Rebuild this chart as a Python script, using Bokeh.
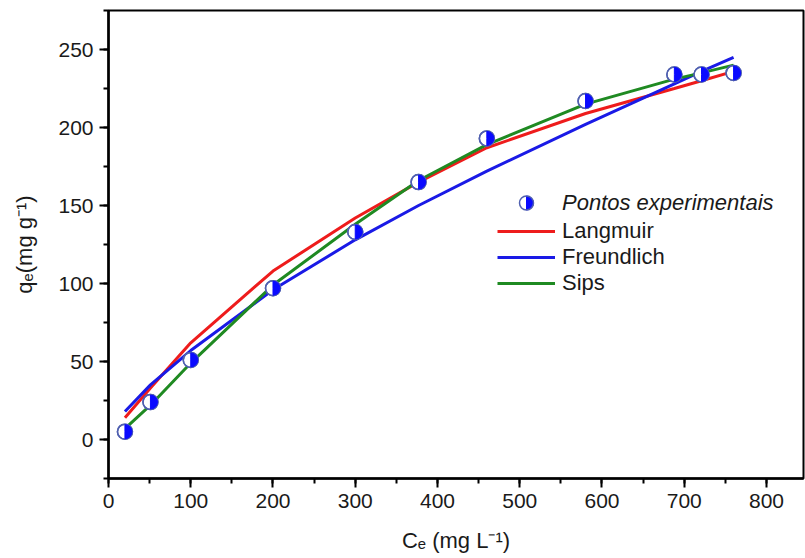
import math
from bokeh.plotting import figure
from bokeh.models import Range1d, SingleIntervalTicker, Legend, LegendItem, ColumnDataSource
from bokeh.embed import file_html
from bokeh.resources import INLINE

# ---- data ----
ce = [20, 51, 100, 200, 300, 377, 460, 580, 688, 721, 760]
qe_exp = [5, 24, 51, 97, 133, 165, 193, 217, 234, 234, 235]
langmuir = [14, 33, 62, 108, 142, 165, 187, 209, 225, 230, 236]
freundlich = [18, 35, 57, 96, 128, 150, 172, 202, 228, 236, 245]
sips = [7, 22, 49, 99, 138, 166, 189, 215, 231, 235, 240]
series_names = ["Langmuir", "Freundlich", "Sips"]
points_name = "Pontos experimentais"
x_title = "Cₑ (mg L⁻¹)"
y_title = "qₑ(mg g⁻¹)"

# ---- layout ----
W, H = 805, 558
BL, BR, BT, BB = 108, 2, 10, 80
X0, X1 = 0, 845
Y0, Y1 = -25, 275
FONT = "Liberation Sans"
colors = ["#ee1c1c", "#1a1ae6", "#1f8a22"]

p = figure(width=W, height=H, output_backend="svg", toolbar_location=None,
           x_range=Range1d(X0, X1), y_range=Range1d(Y0, Y1),
           min_border_left=BL, min_border_right=BR, min_border_top=BT, min_border_bottom=BB)
p.grid.visible = False
p.outline_line_color = "black"
p.outline_line_width = 2
p.background_fill_color = "white"
p.border_fill_color = "white"

p.xaxis.ticker = SingleIntervalTicker(interval=100, num_minor_ticks=2)
p.yaxis.ticker = SingleIntervalTicker(interval=50, num_minor_ticks=2)
for ax in (p.xaxis, p.yaxis):
    ax.axis_line_width = 2.5
    ax.axis_line_color = "black"
    ax.major_tick_line_width = 2
    ax.minor_tick_line_width = 2
    ax.major_tick_out = 9
    ax.major_tick_in = 0
    ax.minor_tick_out = 5
    ax.minor_tick_in = 0
    ax.major_label_text_font = FONT
    ax.major_label_text_font_size = "21px"
    ax.major_label_text_color = "#1a1a1a"
    ax.axis_label_text_font = FONT
    ax.axis_label_text_font_size = "22px"
    ax.axis_label_text_font_style = "normal"
    ax.axis_label_text_color = "#1a1a1a"
    ax.major_label_standoff = 6
p.xaxis.axis_label = x_title
p.yaxis.axis_label = y_title
p.xaxis.axis_label_standoff = 17
p.yaxis.axis_label_standoff = 18

src = ColumnDataSource(dict(ce=ce, qe=qe_exp, lang=langmuir, freu=freundlich, sips=sips))

line_renderers = []
for key, col in zip(["lang", "freu", "sips"], colors):
    r = p.line("ce", key, source=src, line_color=col, line_width=3)
    line_renderers.append(r)

MK_LINE = "#5060b0"
MK_FILL = "#0a0aff"
p.scatter("ce", "qe", source=src, marker="circle", size=15,
          fill_color="white", line_color=MK_LINE, line_width=1.5)
outline = p.scatter("ce", "qe", source=src, marker="circle", size=15,
                    fill_alpha=0, line_color=MK_LINE, line_width=1.5)
p.wedge("ce", "qe", source=src, radius=7, radius_units="screen",
        start_angle=-math.pi / 2, end_angle=math.pi / 2,
        fill_color=MK_FILL, line_color=MK_FILL, line_width=1)

# legend for lines
leg_lines = Legend(items=[LegendItem(label=n, renderers=[r]) for n, r in zip(series_names, line_renderers)],
                   location=(389, 182), glyph_width=58, glyph_height=26, label_height=26,
                   label_standoff=7, spacing=0, padding=0, margin=0,
                   border_line_alpha=0, background_fill_alpha=0,
                   label_text_font=FONT, label_text_font_size="22px", label_text_color="#1a1a1a")
p.add_layout(leg_lines)

# legend for experimental points (italic)
leg_pts = Legend(items=[LegendItem(label=points_name, renderers=[outline])],
                 location=(389, 258), glyph_width=58, glyph_height=35, label_height=35,
                 label_standoff=7, spacing=0, padding=0, margin=0,
                 border_line_alpha=0, background_fill_alpha=0,
                 label_text_font=FONT, label_text_font_size="22px", label_text_color="#1a1a1a",
                 label_text_font_style="italic")
p.add_layout(leg_pts)

# half-fill of the legend sample marker (screen position converted to data units)
fw, fh = W - BL - BR, H - BT - BB
lx_px, ly_px = 389 + 29, 258 + 17.5
lx = X0 + lx_px * (X1 - X0) / fw
ly = Y0 + ly_px * (Y1 - Y0) / fh
p.wedge([lx], [ly], radius=7, radius_units="screen",
        start_angle=-math.pi / 2, end_angle=math.pi / 2,
        fill_color=MK_FILL, line_color=MK_FILL, line_width=1)

open("out.html", "w").write(file_html(p, INLINE))
